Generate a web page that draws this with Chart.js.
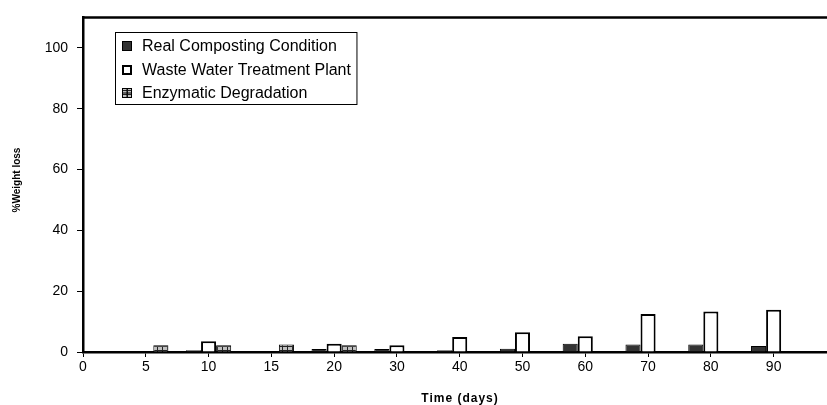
<!DOCTYPE html>
<html>
<head>
<meta charset="utf-8">
<script src="https://cdn.jsdelivr.net/npm/chart.js@4.4.0/dist/chart.umd.min.js"></script>
<style>
  html, body { margin: 0; padding: 0; background: #fff; }
  #wrap { width: 827px; height: 405px; position: relative; }
</style>
</head>
<body>
<div id="wrap"><canvas id="lossChart"></canvas></div>
<script>
// x categories (days), one slot per tick
const dayLabels = ['0', '5', '10', '15', '20', '30', '40', '50', '60', '70', '80', '90'];
// % weight loss
const realComposting = [null, null, 0.6, null, 1.0, 1.0, 0.6, 1.1, 2.7, 2.5, 2.5, 2.0];
const wasteWater     = [null, null, 3.5, null, 2.7, 2.2, 4.9, 6.5, 5.2, 12.5, 13.3, 13.9];
const enzymatic      = [null, 2.2, 2.2, 2.5, 2.2, null, null, null, null, null, null, null];
const seriesNames = ['Real Composting Condition', 'Waste Water Treatment Plant', 'Enzymatic Degradation'];
const xTitle = 'Time (days)';
const yTitle = '%Weight loss';

const FONT = "'Liberation Sans', Arial, sans-serif";

function toPoints(arr) {
    return arr.map((v, i) => ({ x: i, y: v }));
}

// little grid hatch for the enzymatic bars
function makeHatch() {
    const c = document.createElement('canvas');
    c.width = 5; c.height = 4;
    const g = c.getContext('2d');
    g.fillStyle = '#c0c0c0';
    g.fillRect(0, 0, 5, 4);
    g.fillStyle = '#222';
    g.fillRect(2, 0, 1, 4);
    g.fillRect(0, 2, 5, 1);
    return g.createPattern(c, 'repeat');
}
const hatch = makeHatch();

const styles = [
    { fill: '#333333', border: '#000', width: 1 },
    { fill: '#ffffff', border: '#000', width: 2 },
    { fill: hatch, border: '#000', width: 1 }
];

// top frame line, axis titles and the boxed legend inside the plot
const framePlugin = {
    id: 'frame',
    afterDraw(chart) {
        const { ctx, chartArea } = chart;
        ctx.save();
        ctx.strokeStyle = '#000';
        ctx.lineWidth = 2.5;
        ctx.beginPath();
        ctx.moveTo(chartArea.left - 1, chartArea.top);
        ctx.lineTo(chartArea.right, chartArea.top);
        ctx.stroke();

        // axis titles
        ctx.fillStyle = '#000';
        ctx.textAlign = 'center';
        ctx.textBaseline = 'middle';
        ctx.font = 'bold 12px ' + FONT;
        ctx.letterSpacing = '1px';
        ctx.fillText(xTitle, 460, 399);
        ctx.letterSpacing = '0px';
        ctx.save();
        ctx.translate(17, 180);
        ctx.rotate(-Math.PI / 2);
        ctx.font = 'bold 10px ' + FONT;
        ctx.fillText(yTitle, 0, 0);
        ctx.restore();

        // legend
        ctx.textAlign = 'left';
        ctx.font = '16px ' + FONT;
        const textW = Math.max(...seriesNames.map(s => ctx.measureText(s).width));
        const bx = 115.5, by = 32.5, bh = 72;
        const bw = 142 - bx + textW + 6;
        ctx.lineWidth = 1;
        ctx.strokeRect(bx, by, bw, bh);
        const rowY = [46, 70, 93];
        seriesNames.forEach((name, i) => {
            const st = styles[i];
            const y = rowY[i];
            ctx.fillStyle = st.fill;
            ctx.fillRect(122, y - 5, 10, 10);
            ctx.strokeStyle = '#000';
            ctx.lineWidth = st.width;
            ctx.strokeRect(122 + st.width / 2, y - 5 + st.width / 2, 10 - st.width, 10 - st.width);
            if (i === 2) {
                ctx.lineWidth = 1;
                ctx.beginPath();
                ctx.moveTo(127, y - 5); ctx.lineTo(127, y + 5);
                ctx.moveTo(122, y); ctx.lineTo(132, y);
                ctx.stroke();
            }
            ctx.fillStyle = '#000';
            ctx.textBaseline = 'middle';
            ctx.fillText(name, 142, y + 1);
        });
        ctx.restore();
    }
};

window.onload = () => {
    const ctx = document.getElementById('lossChart');
    const series = [realComposting, wasteWater, enzymatic];

    new Chart(ctx, {
        type: 'bar',
        data: {
            datasets: series.map((arr, i) => ({
                label: seriesNames[i],
                data: toPoints(arr),
                backgroundColor: styles[i].fill,
                borderColor: styles[i].border,
                borderWidth: styles[i].width,
                categoryPercentage: 0.72,
                barPercentage: 1.0
            }))
        },
        options: {
            responsive: true,
            maintainAspectRatio: false,
            animation: false,
            layout: { padding: { top: 13, right: 0, left: 0, bottom: 0 } },
            plugins: {
                legend: { display: false },
                tooltip: { enabled: false }
            },
            scales: {
                x: {
                    type: 'linear',
                    min: 0,
                    max: 11.85,
                    offset: false,
                    afterFit: (s) => { s.height = 53; },
                    grid: {
                        offset: false,
                        drawOnChartArea: false,
                        drawTicks: true,
                        tickLength: 5,
                        color: '#000'
                    },
                    border: { display: true, color: '#000', width: 2.5 },
                    ticks: {
                        stepSize: 1,
                        includeBounds: false,
                        autoSkip: false,
                        maxRotation: 0,
                        padding: 2,
                        color: '#000',
                        font: { family: FONT, size: 14 },
                        callback: (v) => dayLabels[v] ?? ''
                    }
                },
                y: {
                    min: 0,
                    max: 110,
                    afterFit: (s) => { s.width = 83; },
                    grid: {
                        drawOnChartArea: false,
                        drawTicks: true,
                        tickLength: 6,
                        color: '#000'
                    },
                    border: { display: true, color: '#000', width: 2.5 },
                    ticks: {
                        stepSize: 20,
                        includeBounds: false,
                        padding: 9,
                        color: '#000',
                        font: { family: FONT, size: 14 }
                    }
                }
            }
        },
        plugins: [framePlugin]
    });
};
</script>
</body>
</html>
